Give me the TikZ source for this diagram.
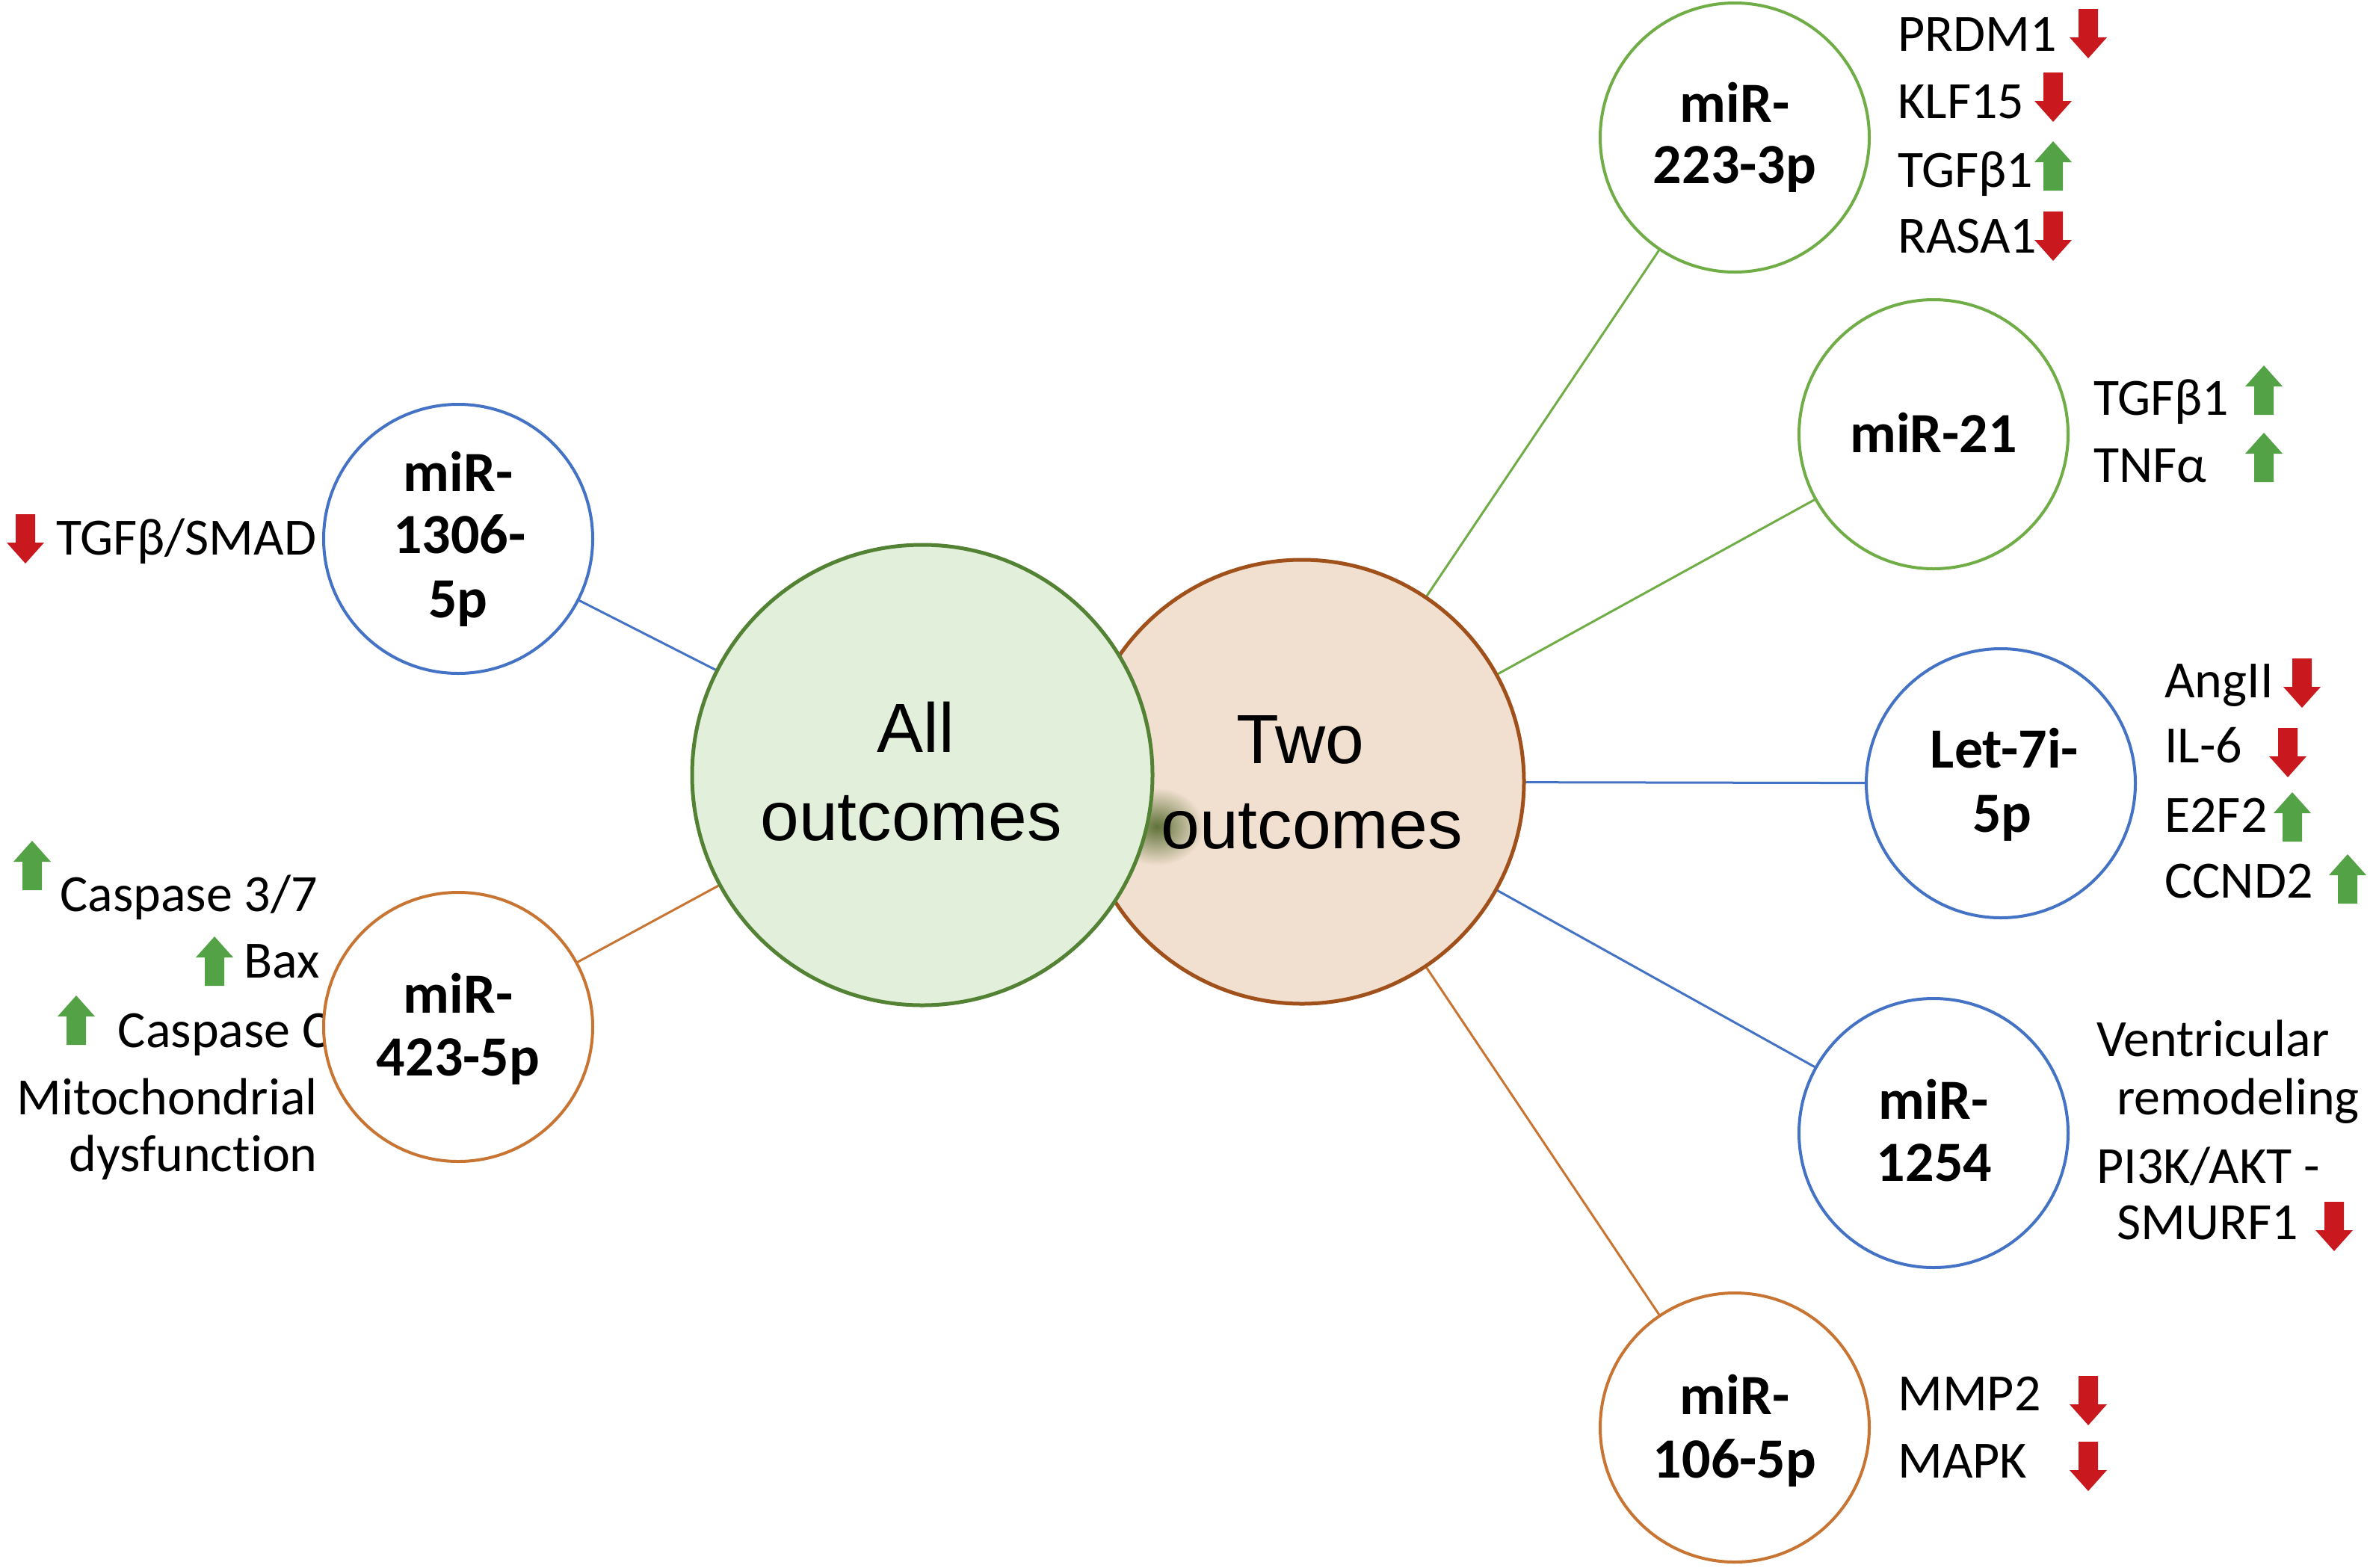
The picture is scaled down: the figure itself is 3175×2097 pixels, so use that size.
\documentclass[tikz,border=0pt]{standalone}
\usepackage{fontspec}
\setmainfont{Carlito}[Ligatures=NoCommon]
\newfontfamily\arialf{Liberation Sans}
\usetikzlibrary{backgrounds}
\definecolor{cgreen}{HTML}{70AD47}
\definecolor{cblue}{HTML}{4472C4}
\definecolor{corange}{HTML}{C87533}
\definecolor{allfill}{HTML}{E2EFDA}
\definecolor{allline}{HTML}{548235}
\definecolor{twofill}{HTML}{F1DFCF}
\definecolor{twoline}{HTML}{A0501A}
\definecolor{arrred}{HTML}{C9191E}
\definecolor{arrgreen}{HTML}{53A246}
\definecolor{blob}{HTML}{5F7238}
\tikzset{
  bigcirc/.style={circle, line width=5pt, inner sep=0pt, outer sep=0pt, minimum size=#1},
  mir/.style={circle, draw=#1, fill=white, line width=4pt, inner sep=0pt, outer sep=0pt, minimum size=360pt},
  link/.style={draw=#1, line width=3pt},
  bigtxt/.style={font=\arialf\fontsize{93}{115}\selectfont, inner sep=0pt, anchor=base},
  mirtxt/.style={font=\bfseries\fontsize{76}{82}\selectfont, inner sep=0pt, anchor=base},
  gene/.style={font=\fontsize{70}{84}\selectfont, inner sep=0pt, anchor=base west},
  geneR/.style={gene, anchor=base east},
  dnarr/.pic={\fill[arrred] (-13,-33) -- (13,-33) -- (13,5) -- (25,5) -- (0,33) -- (-25,5) -- (-13,5) -- cycle;},
  uparr/.pic={\fill[arrgreen] (-13,33) -- (13,33) -- (13,-5) -- (25,-5) -- (0,-33) -- (-25,-5) -- (-13,-5) -- cycle;}
}
\begin{document}
\begin{tikzpicture}[x=1pt, y=-1pt]
\useasboundingbox (0,0) rectangle (3175,2097);

% central circles
\node[bigcirc=594pt, draw=twoline, fill=twofill] (two) at (1742,1046) {};
\shade[inner color=blob, outer color=twofill] (1548,1106) ellipse [x radius=62, y radius=52];
\node[bigcirc=616pt, draw=allline, fill=allfill] (all) at (1234,1037) {};

\node[bigtxt] (allA) at (1225,1006) {All};
\node[bigtxt] (allB) at (1219,1124) {outcomes};
\node[bigtxt] (twoA) at (1740,1021) {Two};
\node[bigtxt] (twoB) at (1755,1135) {outcomes};

% gene texts on the left (drawn before circles so the circle covers them)
\node[gene] (g1306) at (75,742) {TGFβ/SMAD};
\pic at (34,721) {dnarr};
\node[geneR] (g423a) at (425,1219) {Caspase 3/7};
\pic at (43,1158) {uparr};
\node[geneR] (g423b) at (428,1308) {Bax};
\pic at (287,1286) {uparr};
\node[geneR] (g423c) at (442,1401) {Caspase C};
\pic at (102,1365) {uparr};
\node[geneR] (g423d) at (425,1491) {Mitochondrial};
\node[geneR] (g423e) at (425,1567) {dysfunction};

% miRNA circles
\node[mir=cgreen] (m223) at (2321,184) {};
\node[mir=cgreen] (m21) at (2587,581) {};
\node[mir=cblue] (let7) at (2677,1048) {};
\node[mir=cblue] (m1254) at (2587,1516) {};
\node[mir=corange] (m106) at (2321,1910) {};
\node[mir=cblue] (m1306) at (613,721) {};
\node[mir=corange] (m423) at (613,1374) {};

% miRNA labels
\node[mirtxt] (l223a) at (2321,163) {miR-};
\node[mirtxt] (l223b) at (2321,245) {223-3p};
\node[mirtxt] (l21) at (2587,605) {miR-21};
\node[mirtxt] (l7a) at (2682,1027) {Let-7i-};
\node[mirtxt] (l7b) at (2679,1113) {5p};
\node[mirtxt] (l1254a) at (2587,1497) {miR-};
\node[mirtxt] (l1254b) at (2588,1580) {1254};
\node[mirtxt] (l106a) at (2321,1892) {miR-};
\node[mirtxt] (l106b) at (2321,1977) {106-5p};
\node[mirtxt] (l1306a) at (613,657) {miR-};
\node[mirtxt] (l1306b) at (615,740) {1306-};
\node[mirtxt] (l1306c) at (613,826) {5p};
\node[mirtxt] (l423a) at (613,1355) {miR-};
\node[mirtxt] (l423b) at (613,1439) {423-5p};

% white page and connectors behind everything
\begin{scope}[on background layer]
\fill[white] (0,0) rectangle (3175,2097);
\draw[link=cgreen] (two) -- (m223);
\draw[link=cgreen] (two) -- (m21);
\draw[link=cblue] (two) -- (let7);
\draw[link=cblue] (two) -- (m1254);
\draw[link=corange] (two) -- (m106);
\draw[link=cblue] (all) -- (m1306);
\draw[link=corange] (all) -- (m423);
\end{scope}

% miR-223-3p targets
\node[gene] (g223a) at (2539,68) {PRDM1};
\pic at (2794,45) {dnarr};
\node[gene] (g223b) at (2539,158) {KLF15};
\pic at (2747,130) {dnarr};
\node[gene] (g223c) at (2539,250) {TGFβ1};
\pic at (2747,222) {uparr};
\node[gene] (g223d) at (2539,338) {RASA1};
\pic at (2747,316) {dnarr};

% miR-21 targets
\node[gene] (g21a) at (2801,555) {TGFβ1};
\pic at (3029,522) {uparr};
\node[gene] (g21b) at (2801,645) {TNFα};
\pic at (3029,612) {uparr};

% Let-7i-5p targets
\node[gene] (g7a) at (2896,933) {AngII};
\pic at (3080,914) {dnarr};
\node[gene] (g7b) at (2896,1020) {IL-6};
\pic at (3061,1007) {dnarr};
\node[gene] (g7c) at (2896,1113) {E2F2};
\pic at (3067,1093) {uparr};
\node[gene] (g7d) at (2896,1201) {CCND2};
\pic at (3141,1176) {uparr};

% miR-1254 targets
\node[gene] (g1254a) at (2805,1413) {Ventricular};
\node[gene] (g1254b) at (2832,1491) {remodeling};
\node[gene] (g1254c) at (2805,1583) {PI3K/AKT -};
\node[gene] (g1254d) at (2832,1658) {SMURF1};
\pic at (3123,1641) {dnarr};

% miR-106-5p targets
\node[gene] (g106a) at (2539,1887) {MMP2};
\pic at (2794,1874) {dnarr};
\node[gene] (g106b) at (2539,1977) {MAPK};
\pic at (2794,1962) {dnarr};
\end{tikzpicture}
\end{document}
